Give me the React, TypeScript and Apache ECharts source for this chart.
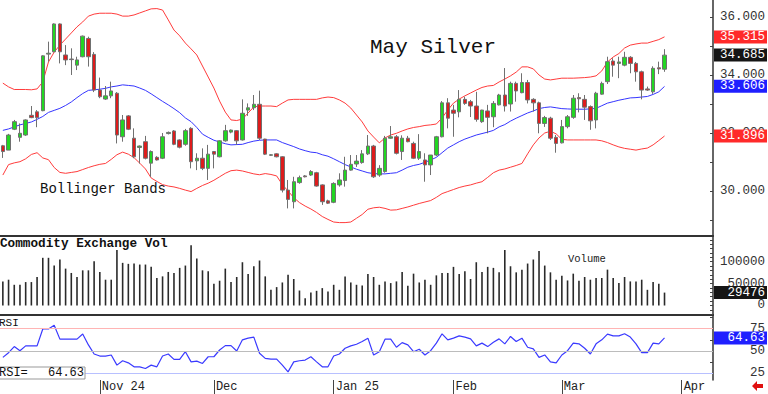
import React, { useEffect, useRef } from 'react';
import * as echarts from 'echarts';

const MONO = '"Liberation Mono", "DejaVu Sans Mono", monospace';
const SLOTS = 125;

const tickIndex = [17, 37, 58, 79, 98, 119];
const tickLabels = ['Nov 24', 'Dec', 'Jan 25', 'Feb', 'Mar', 'Apr'];

const opens = [31.56,31.41,32.13,31.85,31.93,32.61,32.73,32.77,34.72,34.80,
 35.76,34.69,34.55,34.34,34.63,35.26,34.71,33.48,33.17,33.28,
 33.37,31.87,32.59,31.82,31.50,31.70,30.96,31.16,31.13,31.98,
 32.07,31.76,31.61,32.16,31.04,31.13,30.78,31.36,31.18,31.73,
 32.03,32.08,31.76,32.79,32.87,32.99,31.79,31.23,31.28,31.18,
 30.03,29.63,30.29,30.52,30.55,30.63,30.21,29.66,29.61,30.21,
 30.36,30.72,30.93,30.98,31.28,31.55,30.55,30.67,31.82,31.87,
 31.36,31.82,31.64,31.13,31.07,30.90,31.24,31.87,33.04,32.79,
 32.73,33.16,33.08,32.93,32.39,32.76,32.56,32.97,33.31,33.00,
 33.71,33.39,33.74,33.16,33.04,32.33,32.51,31.85,31.66,32.22,
 32.54,33.22,33.16,32.91,32.45,33.34,33.77,34.48,34.40,34.34,
 34.61,34.40,34.11,33.52,33.42,34.25,34.20];

const closes = [31.36,31.93,32.39,31.99,32.45,32.53,32.53,34.66,34.75,35.76,
 34.80,34.52,34.53,34.52,35.34,34.63,33.48,33.25,33.28,33.45,
 31.93,32.45,32.13,31.18,31.55,31.13,31.36,31.07,31.87,32.02,
 31.61,31.51,32.08,31.01,31.13,30.78,31.27,31.27,31.73,32.08,
 32.10,31.73,32.68,32.87,32.99,31.82,31.27,31.25,31.18,30.03,
 29.71,30.32,30.46,30.49,30.67,30.17,29.63,29.58,30.26,30.38,
 30.72,30.92,31.03,31.28,31.55,30.49,30.78,31.82,31.87,31.30,
 31.82,31.70,31.13,31.36,30.90,31.24,31.87,33.04,32.51,32.68,
 33.16,33.02,32.93,32.47,32.79,32.54,33.02,33.31,32.93,33.71,
 33.45,33.74,33.14,33.04,32.33,32.53,31.82,31.64,32.22,32.56,
 33.20,33.18,32.89,32.42,33.37,33.71,34.46,34.34,34.45,34.61,
 34.40,34.11,33.48,33.48,34.23,34.21,34.685];

const lows = [31.14,31.41,32.10,31.70,31.90,32.51,32.20,32.75,34.46,34.78,
 34.40,34.34,34.00,34.17,34.61,34.29,33.41,33.20,33.14,33.20,
 31.64,31.70,32.10,31.13,30.95,31.09,30.49,31.05,31.10,31.95,
 31.58,31.47,31.56,30.78,30.72,30.72,30.38,30.78,31.16,31.70,
 31.99,31.59,31.74,32.59,32.79,31.76,31.24,31.21,31.16,29.95,
 29.40,29.40,30.25,30.47,30.52,30.15,29.52,29.55,29.58,30.15,
 30.15,30.70,30.83,30.94,31.24,30.45,30.49,30.63,31.80,31.26,
 31.07,31.68,31.10,31.07,30.32,30.55,31.20,31.85,32.16,31.87,
 32.54,32.97,32.55,32.39,32.35,31.99,32.20,32.95,32.74,32.74,
 33.08,33.37,33.02,32.74,31.99,32.21,31.76,31.32,31.64,32.16,
 32.49,32.71,32.45,32.11,32.16,33.32,33.69,33.94,33.89,34.30,
 34.06,33.77,33.16,33.45,33.35,34.03,34.11];

const highs = [31.59,31.97,32.45,32.33,32.47,32.93,32.79,34.68,35.15,35.78,
 35.78,35.03,34.92,34.63,35.36,35.32,34.79,33.91,33.62,33.77,
 33.41,32.62,32.62,32.16,31.57,31.90,31.40,31.20,32.00,32.05,
 32.10,31.78,32.14,32.20,31.30,31.47,31.59,31.38,31.75,32.28,
 32.12,32.10,33.16,33.02,33.31,33.46,31.80,31.27,31.30,31.20,
 30.38,30.49,30.53,30.55,30.72,30.66,30.23,29.70,30.30,30.61,
 31.18,31.24,31.24,31.41,31.93,31.59,30.89,31.90,32.24,31.93,
 31.92,31.90,31.70,31.96,31.30,31.24,31.90,33.10,33.20,32.97,
 33.48,33.25,33.14,33.42,32.80,32.97,33.10,33.35,34.24,33.77,
 33.77,34.06,33.83,33.20,33.08,32.59,32.56,31.93,32.45,32.62,
 33.31,33.37,33.31,32.95,33.42,33.77,34.63,34.58,34.63,34.80,
 34.65,34.45,34.15,33.60,34.30,34.46,34.89];

const bbUpper = [33.72,33.59,33.50,33.50,33.50,33.49,33.52,33.76,34.45,34.79,
 35.03,35.24,35.45,35.66,35.83,36.03,36.10,36.13,36.13,36.13,
 36.10,36.03,36.03,36.07,36.14,36.21,36.28,36.29,36.24,35.90,
 35.55,35.35,35.10,34.90,34.69,34.31,33.93,33.55,33.10,32.72,
 32.45,32.43,32.48,32.69,32.90,32.93,32.93,32.93,32.91,33.03,
 33.14,33.16,33.16,33.16,33.16,33.16,33.21,33.24,33.22,33.14,
 33.03,32.86,32.62,32.38,32.07,31.86,31.66,31.83,31.93,31.99,
 32.07,32.14,32.19,32.22,32.26,32.28,32.31,32.52,32.79,33.03,
 33.17,33.28,33.38,33.48,33.57,33.62,33.64,33.76,33.86,33.97,
 34.10,34.28,34.28,34.21,34.00,33.86,33.83,33.86,33.89,33.89,
 33.89,33.90,33.91,33.93,33.97,34.14,34.45,34.62,34.74,34.93,
 35.03,35.07,35.10,35.10,35.16,35.22,35.315];

const bbMiddle = [32.09,32.14,32.21,32.28,32.33,32.38,32.47,32.57,32.71,32.78,
 32.85,32.95,33.07,33.22,33.36,33.47,33.49,33.51,33.54,33.59,
 33.62,33.66,33.64,33.62,33.55,33.47,33.35,33.22,33.09,32.97,
 32.84,32.70,32.52,32.39,32.19,31.96,31.85,31.75,31.69,31.63,
 31.59,31.60,31.61,31.67,31.72,31.75,31.76,31.76,31.76,31.67,
 31.60,31.53,31.45,31.39,31.34,31.32,31.25,31.20,31.11,31.01,
 30.91,30.83,30.75,30.69,30.63,30.60,30.59,30.59,30.61,30.63,
 30.72,30.82,30.88,30.92,30.99,31.07,31.16,31.32,31.48,31.59,
 31.70,31.79,31.86,31.93,31.98,32.03,32.09,32.21,32.29,32.41,
 32.51,32.60,32.69,32.76,32.84,32.88,32.90,32.87,32.84,32.83,
 32.82,32.82,32.82,32.83,32.85,32.94,33.03,33.08,33.13,33.17,
 33.21,33.22,33.24,33.26,33.33,33.42,33.606];

const bbLower = [30.55,30.91,30.97,31.01,31.11,31.26,31.32,31.14,31.08,30.81,
 30.64,30.61,30.64,30.67,30.74,30.81,30.87,30.92,30.95,31.09,
 31.25,31.34,31.27,31.15,30.96,30.76,30.45,30.33,30.22,30.17,
 30.14,30.09,30.03,29.98,30.09,30.19,30.27,30.37,30.49,30.61,
 30.70,30.72,30.69,30.64,30.59,30.56,30.60,30.57,30.52,30.22,
 30.00,29.77,29.60,29.48,29.38,29.26,29.12,29.02,28.93,28.91,
 28.91,28.93,29.06,29.19,29.37,29.42,29.44,29.40,29.34,29.35,
 29.40,29.45,29.51,29.57,29.62,29.67,29.78,29.91,29.98,30.05,
 30.12,30.17,30.21,30.27,30.32,30.47,30.63,30.72,30.76,30.82,
 30.88,30.95,31.28,31.59,31.83,32.00,32.06,31.97,31.78,31.76,
 31.76,31.76,31.76,31.76,31.76,31.73,31.67,31.59,31.52,31.47,
 31.44,31.41,31.45,31.48,31.59,31.74,31.896];

const volumes = [55000,58900,47300,47300,53500,53500,65100,108900,108900,91200,
 105000,84200,74300,65100,80300,80300,101100,76600,58900,58900,
 126500,97400,95100,95800,93500,93500,88200,62800,66500,76600,
 74300,85900,91200,137300,107300,80300,78000,49600,56600,84200,
 53500,65100,98800,72000,89600,102700,66500,35800,42000,52600,
 70400,60500,34200,16600,29500,33500,39700,31900,47300,35800,
 66500,52600,47300,45700,72000,65100,47300,55000,51200,55000,
 76600,45000,72700,52600,58900,47300,68800,74300,74300,88200,
 72000,78000,60500,98800,76600,88200,85900,75700,126500,89600,
 75700,81900,95800,105000,124200,91200,75700,58900,68100,57200,
 72700,56600,65100,58900,62800,62800,81900,62800,51200,65100,
 55000,55000,58900,35800,53500,49600,29476];

const rsi = [42.8,48.1,54.9,50.3,55.7,55.7,55.7,74.7,74.7,78.8,
 63.3,63.3,63.3,63.3,69.0,56.8,46.6,44.3,44.3,45.5,
 34.1,39.0,36.7,32.2,32.2,30.3,34.1,32.2,44.3,46.6,
 40.6,40.6,49.2,37.8,38.6,36.0,43.5,43.5,51.1,56.0,
 56.0,50.0,62.5,64.4,65.6,47.4,41.7,40.9,40.9,34.1,
 26.5,37.8,39.0,39.8,43.5,37.8,32.2,32.2,44.3,46.6,
 53.1,55.7,57.6,60.6,64.4,45.5,49.2,63.3,63.3,54.2,
 59.4,56.8,49.2,51.9,45.5,50.3,58.8,69.3,62.5,64.4,
 67.0,65.6,63.6,55.7,58.8,54.9,59.9,63.6,58.0,66.3,
 60.6,64.4,54.2,52.3,42.8,45.5,37.8,36.7,45.5,50.3,
 58.8,58.0,53.1,46.6,58.0,62.5,69.0,67.0,67.0,69.3,
 65.6,58.0,48.1,48.1,58.8,58.0,64.63];

const priceTicks = [29, 30, 31, 32, 33, 34, 35, 36];
const priceLabels = [30, 32, 34, 36];
const volTicks = [-20000,-10000,0,10000,20000,30000,40000,50000,60000,70000,80000,90000,100000,110000,120000,130000,140000,150000];
const volLabels = [0, 50000, 100000];
const rsiTicks = [25, 37.5, 50, 62.5, 75, 87.5];
const rsiLabels = [25, 50, 75];
const rsiLevels = [75, 50, 25];

function valueMark(value: number, text: string, bg: string) {
  const w = text.length * 7.5;
  return {
    yAxis: value,
    lineStyle: { color: 'rgba(0,0,0,0)', width: 0 },
    label: {
      show: true,
      position: 'end',
      distance: 1,
      formatter: text,
      color: '#ffffff',
      backgroundColor: bg,
      padding: [1, 2, 0, 51 - w],
      fontFamily: MONO,
      fontSize: 12.5,
      lineHeight: 12,
    },
  };
}

function markLineOf(data: any[]) {
  return { silent: true, symbol: ['none', 'none'], animation: false, data };
}

export default function App() {
  const ref = useRef<HTMLDivElement>(null);
  useEffect(() => {
    const chart = echarts.init(ref.current!, undefined, { renderer: 'svg' });
    const cats = Array.from({ length: SLOTS }, (_, i) => String(i));
    const candles = opens.map((o, i) => [o, closes[i], lows[i], highs[i]]);
    const last = closes.length - 1;

    const hiddenX = (gi: number) => ({
      type: 'category', gridIndex: gi, data: cats, boundaryGap: true,
      axisLine: { show: true, onZero: false, lineStyle: { color: '#333', width: 2 } },
      axisTick: { show: false }, axisLabel: { show: false }, splitLine: { show: false },
    });
    const yBase = (gi: number, min: number, max: number, ticks: number[], labels: number[], fmt: (v: number) => string) => ({
      type: 'value', gridIndex: gi, position: 'right', min, max,
      splitLine: { show: false },
      axisLine: { show: true, lineStyle: { color: '#333', width: 1.5 } },
      axisTick: { show: true, inside: true, length: 3, customValues: ticks, lineStyle: { color: '#444' } },
      axisLabel: { customValues: labels, formatter: fmt, align: 'right', margin: 52, fontFamily: MONO, fontSize: 12.5, color: '#333' },
    });

    const option: any = {
      animation: false,
      backgroundColor: '#ffffff',
      grid: [
        { left: 0, right: 54, top: 0, height: 236 },
        { left: 0, right: 54, top: 236, height: 79 },
        { left: 0, right: 54, top: 315, height: 65 },
      ],
      xAxis: [
        hiddenX(0),
        hiddenX(1),
        {
          type: 'category', gridIndex: 2, data: cats, boundaryGap: true,
          axisLine: { show: false },
          axisTick: { show: true, alignWithLabel: true, length: 14, interval: (i: number) => tickIndex.includes(i), lineStyle: { color: '#444' } },
          axisLabel: {
            interval: (i: number) => tickIndex.includes(i),
            formatter: (_v: string, i: number) => { const k = tickIndex.indexOf(i); return k >= 0 ? tickLabels[k] : ''; },
            align: 'left', margin: 1, padding: [0, 0, 0, 2], fontFamily: MONO, fontSize: 12, color: '#222', verticalAlign: 'top',
          },
          splitLine: { show: false },
        },
      ],
      yAxis: [
        yBase(0, 28.448, 36.586, priceTicks, priceLabels, (v: number) => v.toFixed(3)),
        yBase(1, -21700, 158700, volTicks, volLabels, (v: number) => String(v)),
        yBase(2, 17.4, 90.4, rsiTicks, rsiLabels, (v: number) => String(v)),
      ],
      series: [
        {
          type: 'line', name: 'upper', xAxisIndex: 0, yAxisIndex: 0, data: bbUpper, showSymbol: false, z: 1,
          lineStyle: { color: '#ff3b3b', width: 1 },
          markLine: markLineOf([valueMark(bbUpper[last], bbUpper[last].toFixed(3), '#ff2a2a')]),
        },
        {
          type: 'line', name: 'lower', xAxisIndex: 0, yAxisIndex: 0, data: bbLower, showSymbol: false, z: 1,
          lineStyle: { color: '#ff3b3b', width: 1 },
          markLine: markLineOf([valueMark(bbLower[last], bbLower[last].toFixed(3), '#ff2a2a')]),
        },
        {
          type: 'line', name: 'middle', xAxisIndex: 0, yAxisIndex: 0, data: bbMiddle, showSymbol: false, z: 1,
          lineStyle: { color: '#3535ff', width: 1 },
          markLine: markLineOf([valueMark(bbMiddle[last], bbMiddle[last].toFixed(3), '#1f1fff')]),
        },
        {
          type: 'candlestick', name: 'May Silver', xAxisIndex: 0, yAxisIndex: 0, data: candles, barWidth: 4, z: 3,
          itemStyle: { color: '#22d622', color0: '#dd1c1c', borderColor: '#707070', borderColor0: '#707070', borderWidth: 1 },
          markLine: markLineOf([valueMark(closes[last], closes[last].toFixed(3), '#151515')]),
        },
        {
          type: 'bar', name: 'Volume', xAxisIndex: 1, yAxisIndex: 1, data: volumes, barWidth: 1.6,
          itemStyle: { color: '#2a2a2a' },
          markLine: markLineOf([valueMark(volumes[last], String(volumes[last]), '#151515')]),
        },
        {
          type: 'line', name: 'RSI', xAxisIndex: 2, yAxisIndex: 2, data: rsi, showSymbol: false, z: 3,
          lineStyle: { color: '#3a3aff', width: 1.2 },
          markLine: markLineOf([
            { yAxis: rsiLevels[0], lineStyle: { color: '#ffb4b4', width: 1, type: 'solid' }, label: { show: false } },
            { yAxis: rsiLevels[1], lineStyle: { color: '#bcbcbc', width: 1, type: 'solid' }, label: { show: false } },
            { yAxis: rsiLevels[2], lineStyle: { color: '#b8c0ff', width: 1, type: 'solid' }, label: { show: false } },
            valueMark(rsi[last], rsi[last].toFixed(2), '#1f1fff'),
          ]),
        },
      ],
      graphic: [
        { type: 'text', x: 370, y: 47, z: 10, style: { text: 'May Silver', font: `21px ${MONO}`, fill: '#111', verticalAlign: 'middle' } },
        { type: 'text', x: 40, y: 189, z: 10, style: { text: 'Bollinger Bands', font: `14px ${MONO}`, fill: '#111', verticalAlign: 'middle' } },
        { type: 'text', x: 0, y: 243, z: 10, style: { text: 'Commodity Exchange Vol', font: `bold 12.7px ${MONO}`, fill: '#111', verticalAlign: 'middle' } },
        { type: 'text', x: 568, y: 259, z: 10, style: { text: 'Volume', font: `10.5px ${MONO}`, fill: '#222', verticalAlign: 'middle' } },
        { type: 'rect', z: 10, shape: { x: -1, y: 317, width: 23, height: 11 }, style: { fill: '#fff' } },
        { type: 'text', x: -1, y: 322.5, z: 11, style: { text: 'RSI', font: `11px ${MONO}`, fill: '#111', verticalAlign: 'middle' } },
        { type: 'rect', z: 10, shape: { x: -1, y: 367, width: 86, height: 12 }, style: { fill: '#fff', stroke: '#999', lineWidth: 1 } },
        { type: 'text', x: -1, y: 373, z: 11, style: { text: 'RSI=', font: `12px ${MONO}`, fill: '#111', verticalAlign: 'middle' } },
        { type: 'text', x: 84, y: 373, z: 11, style: { text: rsi[last].toFixed(2), font: `12px ${MONO}`, fill: '#111', align: 'right', verticalAlign: 'middle' } },
        { type: 'polygon', z: 10, shape: { points: [[752, 386], [757, 381], [757, 384], [763, 384], [763, 388], [757, 388], [757, 391]] }, style: { fill: '#e01010' } },
      ],
    };
    chart.setOption(option);
    return () => chart.dispose();
  }, []);
  return <div ref={ref} style={{ position: 'fixed', left: 0, top: 0, width: 768, height: 394, background: '#fff' }} />;
}
